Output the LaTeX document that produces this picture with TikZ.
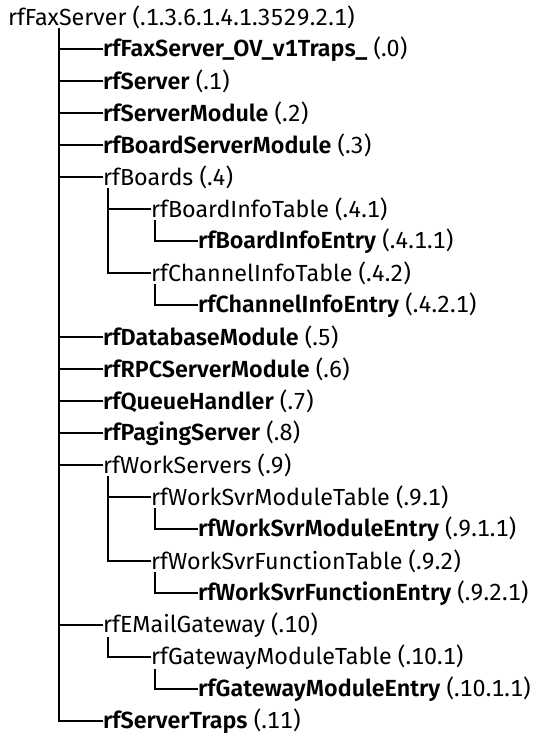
\documentclass[tikz,border=0pt]{standalone}
\usepackage{fontspec}
\setmainfont{Fira Sans}[BoldFont=* SemiBold, Numbers=Monospaced]
\begin{document}
\begin{tikzpicture}[x=1pt,y=-1pt,
  lbl/.style={anchor=west,inner xsep=1pt,inner ysep=0.5pt,font=\fontsize{23.3}{28}\selectfont,text=black},
  branch/.style={draw=black,line width=1.9pt,line cap=rect}]
\useasboundingbox (0,0) rectangle (540,735);
\def\rowh{32}
% trunk x positions
\coordinate (x1) at (59,0);
\coordinate (x2) at (108,0);
\coordinate (x3) at (155,0);
% nodes
\node[lbl] (r0)  at (7,{17+0*\rowh})   {rfFaxServer (.1.3.6.1.4.1.3529.2.1)};
\node[lbl] (r1)  at (102,{17+1*\rowh}) {\textbf{rfFaxServer\_OV\_v1Traps\_} (.0)};
\node[lbl] (r2)  at (102,{17+2*\rowh}) {\textbf{rfServer} (.1)};
\node[lbl] (r3)  at (102,{17+3*\rowh}) {\textbf{rfServerModule} (.2)};
\node[lbl] (r4)  at (102,{17+4*\rowh}) {\textbf{rfBoardServerModule} (.3)};
\node[lbl] (r5)  at (102,{17+5*\rowh}) {rfBoards (.4)};
\node[lbl] (r6)  at (150,{17+6*\rowh}) {rfBoardInfoTable (.4.1)};
\node[lbl] (r7)  at (197,{17+7*\rowh}) {\textbf{rfBoardInfoEntry} (.4.1.1)};
\node[lbl] (r8)  at (150,{17+8*\rowh}) {rfChannelInfoTable (.4.2)};
\node[lbl] (r9)  at (197,{17+9*\rowh}) {\textbf{rfChannelInfoEntry} (.4.2.1)};
\node[lbl] (r10) at (102,{17+10*\rowh}) {\textbf{rfDatabaseModule} (.5)};
\node[lbl] (r11) at (102,{17+11*\rowh}) {\textbf{rfRPCServerModule} (.6)};
\node[lbl] (r12) at (102,{17+12*\rowh}) {\textbf{rfQueueHandler} (.7)};
\node[lbl] (r13) at (102,{17+13*\rowh}) {\textbf{rfPagingServer} (.8)};
\node[lbl] (r14) at (102,{17+14*\rowh}) {rfWorkServers (.9)};
\node[lbl] (r15) at (150,{17+15*\rowh}) {rfWorkSvrModuleTable (.9.1)};
\node[lbl] (r16) at (197,{17+16*\rowh}) {\textbf{rfWorkSvrModuleEntry} (.9.1.1)};
\node[lbl] (r17) at (150,{17+17*\rowh}) {rfWorkSvrFunctionTable (.9.2)};
\node[lbl] (r18) at (197,{17+18*\rowh}) {\textbf{rfWorkSvrFunctionEntry} (.9.2.1)};
\node[lbl] (r19) at (102,{17+19*\rowh}) {rfEMailGateway (.10)};
\node[lbl] (r20) at (150,{17+20*\rowh}) {rfGatewayModuleTable (.10.1)};
\node[lbl] (r21) at (197,{17+21*\rowh}) {\textbf{rfGatewayModuleEntry} (.10.1.1)};
\node[lbl] (r22) at (102,{17+22*\rowh}) {\textbf{rfServerTraps} (.11)};
% level 1 connectors
\foreach \c in {r1,r2,r3,r4,r5,r10,r11,r12,r13,r14,r19,r22}
  \draw[branch] (r0.south -| x1) |- (\c.west);
% level 2
\foreach \c in {r6,r8} \draw[branch] (r5.south -| x2) |- (\c.west);
\foreach \c in {r15,r17} \draw[branch] (r14.south -| x2) |- (\c.west);
\draw[branch] (r19.south -| x2) |- (r20.west);
% level 3
\draw[branch] (r6.south -| x3) |- (r7.west);
\draw[branch] (r8.south -| x3) |- (r9.west);
\draw[branch] (r15.south -| x3) |- (r16.west);
\draw[branch] (r17.south -| x3) |- (r18.west);
\draw[branch] (r20.south -| x3) |- (r21.west);
\end{tikzpicture}
\end{document}
